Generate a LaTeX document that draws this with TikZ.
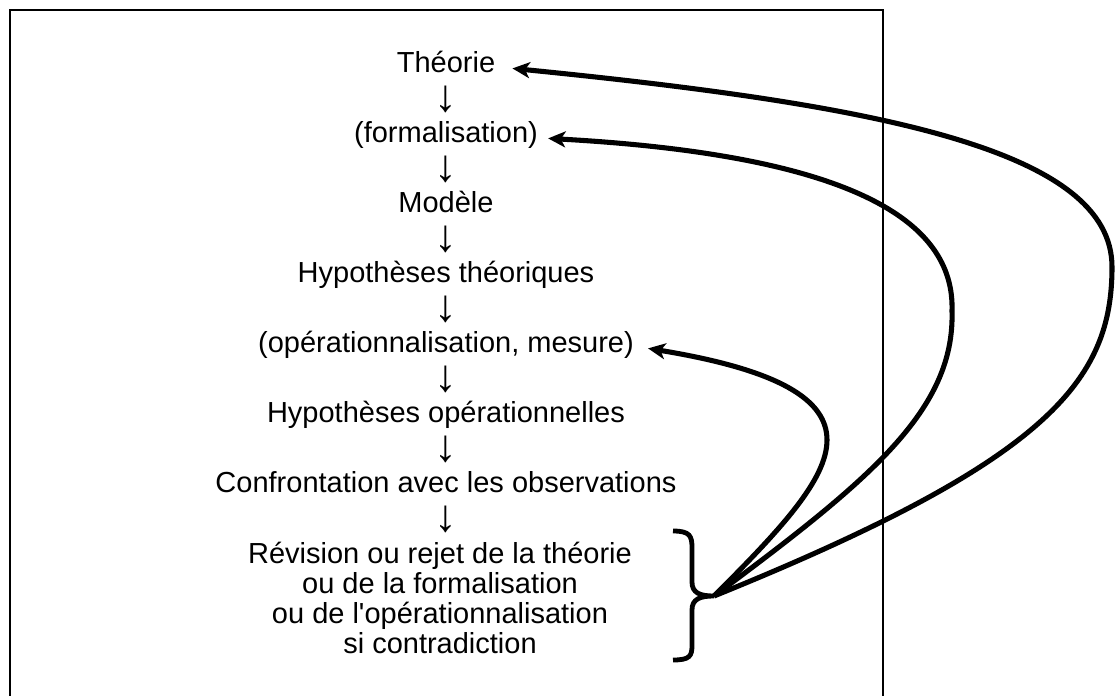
\documentclass[tikz,border=0pt]{standalone}
\usepackage{fontspec}
\setmainfont{Liberation Sans}
\usetikzlibrary{arrows.meta}
\newcommand\straightquote{\XeTeXglyph\XeTeXcharglyph"27\relax}
\begin{document}
\begin{tikzpicture}[x=0.75pt,y=-0.75pt,
  lbl/.style={inner sep=0pt, anchor=base, text height=0.75em, text depth=0.21em,
    font=\fontsize{21.75}{26}\selectfont},
  downarrow/.style={inner sep=0pt, anchor=center, font=\fontsize{34}{34}\selectfont},
  frame/.style={line width=1.8pt},
  conn/.style={line width=3.8pt, -{Stealth[length=13pt,width=12pt,inset=3.5pt]}},
  bracestyle/.style={line width=3.6pt, line cap=butt}]
\useasboundingbox (0,0) rectangle (1118,696);
\draw[frame] (10,696) -- (10,10) -- (883,10) -- (883,696);

\node[lbl] (theorie) at (446,72) {Théorie};
\node[downarrow] (a1) at (446,99) {↓};
\node[lbl] (form) at (446,142) {(formalisation)};
\node[downarrow] (a2) at (446,169) {↓};
\node[lbl] (modele) at (446,212) {Modèle};
\node[downarrow] (a3) at (446,239) {↓};
\node[lbl] (hypth) at (446,282) {Hypothèses théoriques};
\node[downarrow] (a4) at (446,309) {↓};
\node[lbl] (oper) at (446,352) {(opérationnalisation, mesure)};
\node[downarrow] (a5) at (446,379) {↓};
\node[lbl] (hypop) at (446,422) {Hypothèses opérationnelles};
\node[downarrow] (a6) at (446,449) {↓};
\node[lbl] (conf) at (446,492) {Confrontation avec les observations};
\node[downarrow] (a7) at (446,519) {↓};
\node[lbl] (rev1) at (440,563) {Révision ou rejet de la théorie};
\node[lbl] (rev2) at (440,593) {ou de la formalisation};
\node[lbl] (rev3) at (440,623) {ou de l\straightquote opérationnalisation};
\node[lbl] (rev4) at (440,653) {si contradiction};

% brace
\coordinate (br) at (714,596);
\draw[bracestyle] (673,531) .. controls (690,531) and (692,536) .. (692,548)
  -- (692,582) .. controls (692,593) and (700,596) .. (br)
  .. controls (700,596) and (692,599) .. (692,610)
  -- (692,645) .. controls (692,656) and (690,660) .. (673,660);

% feedback arrows
\draw[conn] (br) .. controls (1050,460) and (1112,380) .. (1112,267)
  .. controls (1112,150) and (880,105) .. ([xshift=12.75pt]theorie.east);
\draw[conn] (br) .. controls (870,480) and (955,410) .. (952,311)
  .. controls (955,220) and (850,155) .. ([xshift=7.5pt]form.east);
\draw[conn] (br) .. controls (780,530) and (827,480) .. (827,440)
  .. controls (827,400) and (780,370) .. ([xshift=10.5pt]oper.east);
\end{tikzpicture}
\end{document}
